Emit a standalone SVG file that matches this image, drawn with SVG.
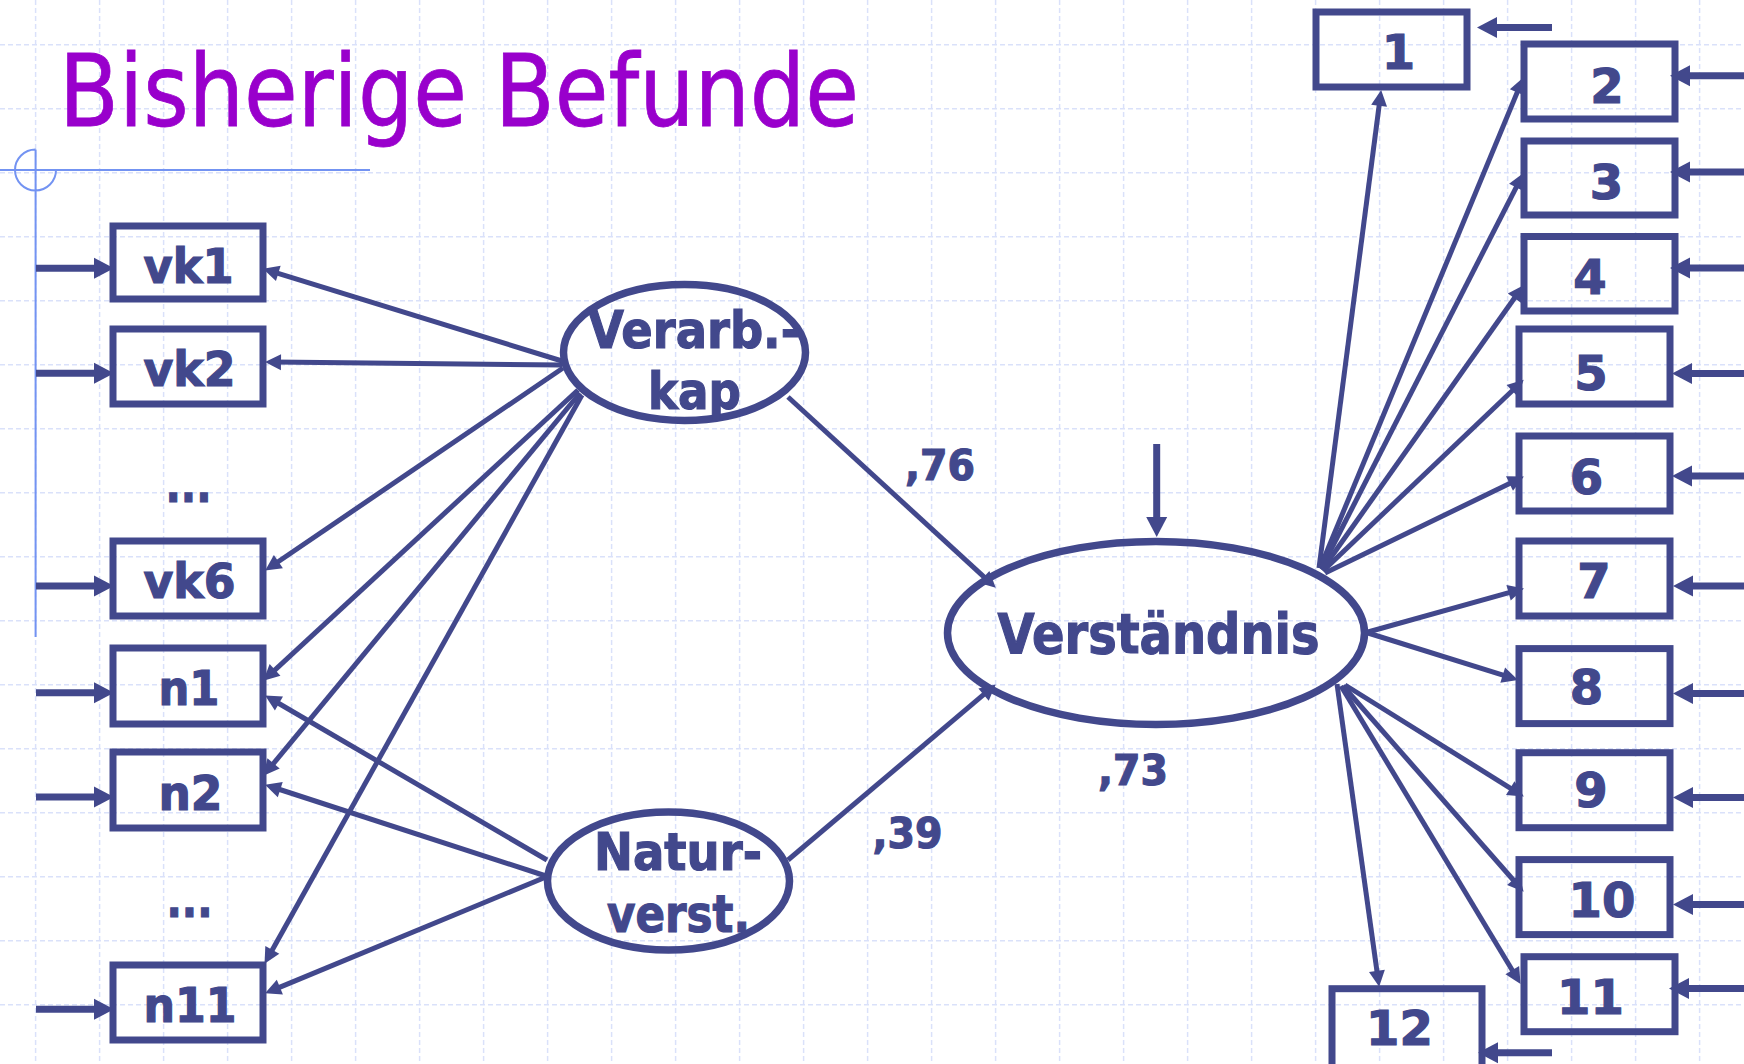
<svg xmlns="http://www.w3.org/2000/svg" width="1744" height="1064" viewBox="0 0 1744 1064">
  <style>
    .grid { fill: none; stroke: #DAE1FA; stroke-width: 1.5; stroke-dasharray: 5 3; }
    .guide { fill: none; stroke: #7393F2; stroke-width: 2; }
    .box { fill: none; stroke: #42488C; stroke-width: 7; }
    .lat { fill: none; stroke: #42488C; stroke-width: 7.5; }
    .ld { fill: none; stroke: #42488C; stroke-width: 5; marker-end: url(#headS); }
    .er { fill: none; stroke: #42488C; stroke-width: 7; marker-end: url(#headL); }
    .lbl { font-family: "DejaVu Sans", Verdana, sans-serif; font-weight: bold; fill: #42488C; stroke: #42488C; stroke-width: 1.2; text-anchor: middle; }
    .num { font-size: 48px; }
    .coef { font-size: 43px; }
    .title { font-family: "DejaVu Sans", Tahoma, sans-serif; font-size: 100px; fill: #9900CC; stroke: #9900CC; stroke-width: 0.8; }
  </style>
  <defs>
    <marker id="headS" markerUnits="userSpaceOnUse" markerWidth="17" markerHeight="17" refX="7" refY="8" orient="auto" overflow="visible">
      <path d="M0,0 L16,8 L0,16 z" fill="#42488C"/>
    </marker>
    <marker id="headL" markerUnits="userSpaceOnUse" markerWidth="22" markerHeight="22" refX="10" refY="10.5" orient="auto" overflow="visible">
      <path d="M0,0 L20,10.5 L0,21 z" fill="#42488C"/>
    </marker>
  </defs>

  <rect width="1744" height="1064" fill="#FFFFFF"/>

  <!-- background grid -->
  <path class="grid" d="M35.6,0V1064 M99.6,0V1064 M163.6,0V1064 M227.6,0V1064 M291.6,0V1064 M355.6,0V1064 M419.6,0V1064 M483.6,0V1064 M547.6,0V1064 M611.6,0V1064 M675.6,0V1064 M739.6,0V1064 M803.6,0V1064 M867.6,0V1064 M931.6,0V1064 M995.6,0V1064 M1059.6,0V1064 M1123.6,0V1064 M1187.6,0V1064 M1251.6,0V1064 M1315.6,0V1064 M1379.6,0V1064 M1443.6,0V1064 M1507.6,0V1064 M1571.6,0V1064 M1635.6,0V1064 M1699.6,0V1064
    M0,44.7H1744 M0,108.7H1744 M0,172.7H1744 M0,236.7H1744 M0,300.7H1744 M0,364.7H1744 M0,428.7H1744 M0,492.7H1744 M0,556.7H1744 M0,620.7H1744 M0,684.7H1744 M0,748.7H1744 M0,812.7H1744 M0,876.7H1744 M0,940.7H1744 M0,1004.7H1744"/>

  <!-- title and slide guide -->
  <g id="title">
    <text class="title" x="59" y="126" textLength="800" lengthAdjust="spacingAndGlyphs">Bisherige Befunde</text>
    <path class="guide" d="M0,170H370 M35.6,149.5V637 M35.6,149.5 A20.5,20.5 0 1 0 56,170"/>
  </g>

  <!-- connectors -->
  <g id="connectors">
    <!-- error terms, left indicators -->
    <path class="er" d="M36,268.3H104"/>
    <path class="er" d="M36,373.3H104"/>
    <path class="er" d="M36,586H104"/>
    <path class="er" d="M36,692.7H104"/>
    <path class="er" d="M36,797H104"/>
    <path class="er" d="M36,1009.3H104"/>
    <!-- error terms, right indicators -->
    <path class="er" d="M1552,27.5H1487"/>
    <path class="er" d="M1744,75.8H1680"/>
    <path class="er" d="M1744,172H1680"/>
    <path class="er" d="M1744,268H1680"/>
    <path class="er" d="M1744,373.6H1682"/>
    <path class="er" d="M1744,476H1682"/>
    <path class="er" d="M1744,586H1683"/>
    <path class="er" d="M1744,693.5H1683"/>
    <path class="er" d="M1744,797.6H1683"/>
    <path class="er" d="M1744,904.5H1683"/>
    <path class="er" d="M1744,988.4H1679"/>
    <path class="er" d="M1552,1052.7H1488"/>
    <!-- disturbance of Verständnis -->
    <path class="er" d="M1156.7,444V527"/>

    <!-- loadings of Verarb.-kap -->
    <path class="ld" d="M562,361L271.6,271.4"/>
    <path class="ld" d="M562,365L274,362.1"/>
    <path class="ld" d="M563,368L272.6,565.5"/>
    <path class="ld" d="M578,390L269.9,674.6"/>
    <path class="ld" d="M580,393L269.1,768.8"/>
    <path class="ld" d="M582,395L268.9,956"/>
    <!-- loadings of Natur-verst. -->
    <path class="ld" d="M547,860L272.9,700"/>
    <path class="ld" d="M546,876L273.6,787.5"/>
    <path class="ld" d="M546,877L273.4,989.9"/>
    <!-- structural paths -->
    <path class="ld" d="M788,397L989.1,581.6"/>
    <path class="ld" d="M788,860L988.9,690.2"/>
    <!-- loadings of Verständnis -->
    <path class="ld" d="M1319,568L1380,98.9"/>
    <path class="ld" d="M1320,568L1519.9,85.9"/>
    <path class="ld" d="M1321,569L1519.4,181.1"/>
    <path class="ld" d="M1322,570L1518.4,292.5"/>
    <path class="ld" d="M1323,571L1517.2,386"/>
    <path class="ld" d="M1325,573L1515.8,480.5"/>
    <path class="ld" d="M1368,632L1515.3,590.9"/>
    <path class="ld" d="M1368,633L1509.4,677.2"/>
    <path class="ld" d="M1345,685L1516.2,791.8"/>
    <path class="ld" d="M1343,686L1517.7,885"/>
    <path class="ld" d="M1341,686L1515.9,976.2"/>
    <path class="ld" d="M1337,684L1377.9,977.8"/>
  </g>

  <!-- indicators of Verarb.-kap -->
  <g id="vk1"><rect class="box" x="113" y="226" width="150" height="73"/><text class="lbl num" x="188.5" y="282.7" textLength="90" lengthAdjust="spacingAndGlyphs">vk1</text></g>
  <g id="vk2"><rect class="box" x="113" y="329" width="150" height="75"/><text class="lbl num" x="189.5" y="386" textLength="92" lengthAdjust="spacingAndGlyphs">vk2</text></g>
  <g id="vk-dots"><text class="lbl num" x="188.5" y="502" textLength="46" lengthAdjust="spacingAndGlyphs">...</text></g>
  <g id="vk6"><rect class="box" x="113" y="541" width="150" height="75"/><text class="lbl num" x="189.5" y="598.3" textLength="92" lengthAdjust="spacingAndGlyphs">vk6</text></g>

  <!-- indicators of Natur-verst. -->
  <g id="n1"><rect class="box" x="113" y="648" width="150" height="76"/><text class="lbl num" x="189" y="705" textLength="61" lengthAdjust="spacingAndGlyphs">n1</text></g>
  <g id="n2"><rect class="box" x="113" y="752" width="150" height="76"/><text class="lbl num" x="190.5" y="810" textLength="64" lengthAdjust="spacingAndGlyphs">n2</text></g>
  <g id="n-dots"><text class="lbl num" x="189.5" y="917" textLength="46" lengthAdjust="spacingAndGlyphs">...</text></g>
  <g id="n11"><rect class="box" x="113" y="965" width="150" height="75"/><text class="lbl num" x="190" y="1021.7" textLength="93" lengthAdjust="spacingAndGlyphs">n11</text></g>

  <!-- latent variables -->
  <g id="verarbkap">
    <ellipse class="lat" cx="684.5" cy="352.5" rx="121" ry="68"/>
    <text class="lbl" font-size="52" x="694" y="348" textLength="212" lengthAdjust="spacingAndGlyphs">Verarb.-</text>
    <text class="lbl" font-size="52" x="694.5" y="409" textLength="93" lengthAdjust="spacingAndGlyphs">kap</text>
  </g>
  <g id="naturverst">
    <ellipse class="lat" cx="668.5" cy="881" rx="121" ry="69"/>
    <text class="lbl" font-size="51" x="678" y="870" textLength="168" lengthAdjust="spacingAndGlyphs">Natur-</text>
    <text class="lbl" font-size="51" x="678.5" y="931.7" textLength="143" lengthAdjust="spacingAndGlyphs">verst.</text>
  </g>
  <g id="verstaendnis">
    <ellipse class="lat" cx="1156" cy="633" rx="208.5" ry="91.5" stroke-width="8"/>
    <text class="lbl" font-size="55" x="1158.5" y="652.7" textLength="322" lengthAdjust="spacingAndGlyphs">Verständnis</text>
  </g>

  <!-- path coefficients and explained variance -->
  <g id="coefficients">
    <text class="lbl coef" x="940" y="480" textLength="70" lengthAdjust="spacingAndGlyphs">,76</text>
    <text class="lbl coef" x="907.5" y="848" textLength="70" lengthAdjust="spacingAndGlyphs">,39</text>
    <text class="lbl coef" x="1133" y="785" textLength="70" lengthAdjust="spacingAndGlyphs">,73</text>
  </g>

  <!-- indicators of Verständnis -->
  <g id="v1"><rect class="box" x="1316" y="12" width="151" height="75"/><text class="lbl num" x="1398.5" y="69">1</text></g>
  <g id="v2"><rect class="box" x="1524" y="44" width="151" height="75"/><text class="lbl num" x="1607" y="102.6">2</text></g>
  <g id="v3"><rect class="box" x="1524" y="141" width="151" height="74"/><text class="lbl num" x="1606.5" y="199">3</text></g>
  <g id="v4"><rect class="box" x="1524" y="236.5" width="151" height="74.5"/><text class="lbl num" x="1590" y="294.4">4</text></g>
  <g id="v5"><rect class="box" x="1519" y="329" width="151" height="75"/><text class="lbl num" x="1591" y="390">5</text></g>
  <g id="v6"><rect class="box" x="1519" y="436" width="151" height="75"/><text class="lbl num" x="1586.5" y="493.5">6</text></g>
  <g id="v7"><rect class="box" x="1519" y="541" width="151" height="75"/><text class="lbl num" x="1594" y="598">7</text></g>
  <g id="v8"><rect class="box" x="1519" y="648.6" width="151" height="75"/><text class="lbl num" x="1586.5" y="704">8</text></g>
  <g id="v9"><rect class="box" x="1519" y="752.7" width="151" height="75"/><text class="lbl num" x="1591" y="807">9</text></g>
  <g id="v10"><rect class="box" x="1519" y="859.6" width="151" height="75"/><text class="lbl num" x="1602" y="917">10</text></g>
  <g id="v11"><rect class="box" x="1524" y="956.7" width="151" height="75"/><text class="lbl num" x="1590.5" y="1014.4">11</text></g>
  <g id="v12"><rect class="box" x="1332" y="988.7" width="150" height="80"/><text class="lbl num" x="1399.4" y="1045">12</text></g>
</svg>
